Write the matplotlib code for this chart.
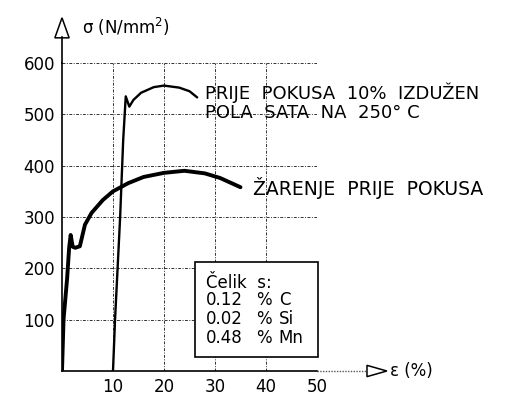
import matplotlib.pyplot as plt
from matplotlib.patches import Polygon, Rectangle

plt.rcParams['font.family'] = ['DejaVu Sans']

# annealed before test
annealed_eps = [0, 0.3, 1.0, 1.4, 1.7, 2.1, 2.6, 3.5, 4.5, 5.8, 8, 10, 13, 16, 20, 24, 28, 31, 35]
annealed_sig = [0, 100, 180, 240, 265, 242, 240, 243, 285, 308, 333, 350, 366, 378, 386, 390, 385, 376, 358]

# 10 % pre-strained, half an hour at 250 C
strained_eps = [10, 10.4, 11.4, 12.0, 12.5, 13.2, 14, 15.5, 18, 20, 23, 25, 26.5]
strained_sig = [0, 100, 300, 450, 535, 515, 528, 542, 553, 556, 552, 545, 533]

x_ticks = [10, 20, 30, 40, 50]
y_ticks = [100, 200, 300, 400, 500, 600]

steel_pct = ['0.12', '0.02', '0.48']
steel_elem = ['C', 'Si', 'Mn']

fig = plt.figure(figsize=(5.16, 4.08), dpi=100)
ax = fig.add_axes([62 / 516, 37 / 408, 255 / 516, 308 / 408])
ax.set_xlim(0, 50)
ax.set_ylim(0, 600)

ax.set_xticks(x_ticks)
ax.set_yticks(y_ticks)
ax.tick_params(length=0, labelsize=12, pad=5)
for s in ['top', 'right']:
    ax.spines[s].set_visible(False)
for s in ['left', 'bottom']:
    ax.spines[s].set_linewidth(1.2)
ax.grid(True, color='#333333', lw=0.7, linestyle=(0, (3, 1.5, 1, 1.5)))
ax.set_axisbelow(True)

ax.plot(annealed_eps, annealed_sig, color='black', lw=2.8, solid_capstyle='round', zorder=3)
ax.plot(strained_eps, strained_sig, color='black', lw=1.7, solid_capstyle='round', zorder=3)

# axis extensions with open arrows
ax.plot([0, 0], [600, 650], color='black', lw=1.2, clip_on=False)
ax.add_patch(Polygon([[-1.4, 649], [1.4, 649], [0, 688]], closed=True, facecolor='white',
                     edgecolor='black', lw=1.1, clip_on=False))
ax.plot([50, 59.8], [0, 0], color='#555555', lw=1.0, linestyle=(0, (1, 1)), clip_on=False)
ax.add_patch(Polygon([[59.8, 11], [59.8, -11], [63.7, 0]], closed=True, facecolor='white',
                     edgecolor='black', lw=1.1, clip_on=False))
ax.text(64.4, 0, 'ε (%)', fontsize=12, va='center', ha='left')
ax.text(3.9, 670, 'σ (N/mm$^2$)', fontsize=12, va='center', ha='left')

ax.text(28, 542, 'PRIJE  POKUSA  10%  IZDUŽEN', fontsize=13, va='center', ha='left')
ax.text(28, 503, 'POLA  SATA  NA  250° C', fontsize=13, va='center', ha='left')
ax.text(37.5, 357, 'ŽARENJE  PRIJE  POKUSA', fontsize=13.5, va='center', ha='left')

# composition box
ax.add_patch(Rectangle((26.1, 27), 24.1, 185, facecolor='white', edgecolor='black',
                       lw=1.2, zorder=4, clip_on=False))
ax.text(28.2, 172, 'Čelik  s:', fontsize=12, va='center', ha='left', zorder=5)
for i in range(3):
    yy = 138 - i * 37
    ax.text(28.2, yy, steel_pct[i], fontsize=12, va='center', ha='left', zorder=5)
    ax.text(38.0, yy, '%', fontsize=12, va='center', ha='left', zorder=5)
    ax.text(42.5, yy, steel_elem[i], fontsize=12, va='center', ha='left', zorder=5)

fig.savefig('out.png', dpi=100)
